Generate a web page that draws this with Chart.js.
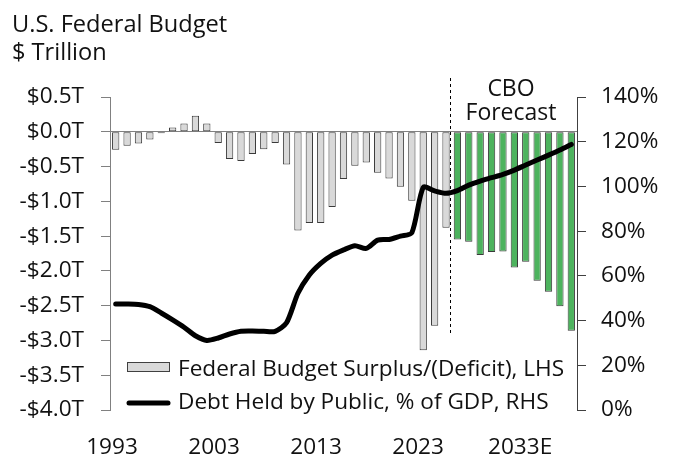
<!DOCTYPE html>
<html>
<head>
<meta charset="utf-8">
<script src="https://cdn.jsdelivr.net/npm/chart.js@4.4.1/dist/chart.umd.min.js"></script>
<style>
  html, body { margin: 0; padding: 0; background: #fff; }
  #wrap { position: relative; width: 674px; height: 461px; }
</style>
</head>
<body>
<div id="wrap"><canvas id="budgetChart" width="674" height="461"></canvas></div>
<script>
// --- data ---
const years = [];
for (let y = 1993; y <= 2033; y++) years.push(String(y));

// surplus/(deficit), $ trillion, 1993-2022 actual
const actualBalance = [
  -0.26, -0.20, -0.17, -0.11, -0.02, 0.06, 0.12, 0.23, 0.12, -0.16,
  -0.39, -0.42, -0.32, -0.25, -0.16, -0.47, -1.42, -1.31, -1.31, -1.08,
  -0.68, -0.49, -0.44, -0.59, -0.67, -0.79, -0.99, -3.14, -2.79, -1.38
];
// CBO forecast, 2023-2033
const forecastBalance = [
  -1.55, -1.58, -1.77, -1.73, -1.72, -1.95, -1.87, -2.14, -2.30, -2.51, -2.86
];
// debt held by public, % of GDP
const debtPctGdp = [
  47.4, 47.4, 47.2, 46.2, 43.4, 40.3, 37.0, 33.2, 31.1, 32.2,
  34.0, 35.2, 35.3, 35.2, 35.2, 39.0, 52.2, 60.4, 65.6, 69.3,
  71.6, 73.5, 72.3, 76.0, 76.3, 77.8, 79.3, 99.6, 98.0, 96.9,
  98.1, 100.6, 102.4, 103.9, 105.4, 107.3, 109.6, 111.8, 114.0, 116.3, 118.8
];
const xTickYears = [1993, 2003, 2013, 2023, 2033];
const xTickLabels = ['1993', '2003', '2013', '2023', '2033E'];

const barLabel = 'Federal Budget Surplus/(Deficit), LHS';
const lineLabel = 'Debt Held by Public, % of GDP, RHS';

// pad the two bar series so each sits on its own years
const actualSeries = years.map((_, i) => i < actualBalance.length ? actualBalance[i] : null);
const forecastSeries = years.map((_, i) => i >= actualBalance.length ? forecastBalance[i - actualBalance.length] : null);

const FONT = '"Open Sans", "Noto Sans", sans-serif';
const TEXT = '#111';
const AXIS_GRAY = '#808080';

// --- titles, legend, forecast marker ---
const decorPlugin = {
  id: 'decor',
  afterDatasetsDraw(chart) {
    const { ctx, scales } = chart;
    ctx.save();

    // dashed split between actuals and forecast
    const xs = scales.x;
    const splitX = Math.round((xs.getPixelForValue(29) + xs.getPixelForValue(30)) / 2) - 1.5;
    ctx.strokeStyle = '#000';
    ctx.lineWidth = 1;
    ctx.setLineDash([3, 3]);
    ctx.beginPath();
    ctx.moveTo(splitX, 78);
    ctx.lineTo(splitX, 334);
    ctx.stroke();
    ctx.setLineDash([]);

    ctx.fillStyle = TEXT;
    ctx.textAlign = 'center';
    ctx.textBaseline = 'alphabetic';
    ctx.font = '23px ' + FONT;
    ctx.fillText('CBO', 511, 96);
    ctx.fillText('Forecast', 511, 120);

    // legend, inside the plot
    const lx = 127, sw = 43;
    ctx.fillStyle = '#d9d9d9';
    ctx.fillRect(lx, 362, sw, 10);
    ctx.strokeStyle = '#404040';
    ctx.lineWidth = 1;
    ctx.strokeRect(lx + 0.5, 362.5, sw - 1, 9);
    ctx.strokeStyle = '#000';
    ctx.lineWidth = 5;
    ctx.lineCap = 'round';
    ctx.beginPath();
    ctx.moveTo(lx + 2, 403);
    ctx.lineTo(lx + sw - 2, 403);
    ctx.stroke();

    ctx.fillStyle = TEXT;
    ctx.textAlign = 'left';
    ctx.font = '22.6px ' + FONT;
    ctx.fillText(barLabel, 178, 376);
    ctx.fillText(lineLabel, 178, 409);

    // title + unit
    ctx.font = '23.6px ' + FONT;
    ctx.fillText('U.S. Federal Budget', 12, 32);
    ctx.fillText('$ Trillion', 12, 60);
    ctx.restore();
  }
};

const ctx = document.getElementById('budgetChart').getContext('2d');
const budgetChart = new Chart(ctx, {
  data: {
    labels: years,
    datasets: [
      {
        type: 'line',
        label: lineLabel,
        data: debtPctGdp,
        yAxisID: 'y1',
        borderColor: '#000',
        borderWidth: 5,
        pointRadius: 0,
        tension: 0.25,
        borderCapStyle: 'round',
        borderJoinStyle: 'round',
        order: 0
      },
      {
        type: 'bar',
        label: barLabel,
        data: actualSeries,
        yAxisID: 'y',
        backgroundColor: '#d9d9d9',
        borderColor: '#3a3a3a',
        borderWidth: 1,
        borderSkipped: false,
        barPercentage: 0.64,
        categoryPercentage: 1,
        grouped: false,
        order: 1
      },
      {
        type: 'bar',
        label: 'CBO Forecast',
        data: forecastSeries,
        yAxisID: 'y',
        backgroundColor: '#4db35e',
        borderColor: '#3a3a3a',
        borderWidth: 1,
        borderSkipped: false,
        barPercentage: 0.64,
        categoryPercentage: 1,
        grouped: false,
        order: 1
      }
    ]
  },
  options: {
    responsive: false,
    animation: false,
    layout: { padding: { left: 12, right: 0, top: 97, bottom: 0 } },
    plugins: {
      legend: { display: false },
      tooltip: { enabled: false }
    },
    scales: {
      x: {
        type: 'category',
        display: false,
        offset: true
      },
      xYears: {
        type: 'linear',
        position: 'bottom',
        min: 1992.8,
        max: 2038.58,
        afterBuildTicks: (s) => { s.ticks = xTickYears.map(v => ({ value: v })); },
        afterFit: (s) => { s.height = 51; },
        grid: { display: false },
        border: { display: false },
        ticks: {
          padding: 16,
          color: TEXT,
          font: { size: 22.6, family: FONT },
          maxRotation: 0,
          autoSkip: false,
          callback: (v) => xTickLabels[xTickYears.indexOf(v)]
        }
      },
      y: {
        position: 'left',
        min: -4,
        max: 0.5,
        afterFit: (s) => { s.width = 98; },
        border: { display: true, color: AXIS_GRAY, width: 1 },
        grid: {
          drawOnChartArea: true,
          color: (c) => c.tick && c.tick.value === 0 ? AXIS_GRAY : 'rgba(0,0,0,0)',
          tickColor: AXIS_GRAY,
          tickLength: 9
        },
        ticks: {
          stepSize: 0.5,
          padding: 17,
          color: TEXT,
          font: { size: 22.6, family: FONT },
          callback: (v) => (v < 0 ? '-$' : '$') + Math.abs(v).toFixed(1) + 'T'
        }
      },
      y1: {
        position: 'right',
        min: 0,
        max: 140,
        afterFit: (s) => { s.width = 97; },
        border: { display: true, color: '#404040', width: 1 },
        grid: { drawOnChartArea: false, tickColor: '#404040', tickLength: 9 },
        ticks: {
          stepSize: 20,
          padding: 15,
          color: TEXT,
          font: { size: 22.6, family: FONT },
          callback: (v) => v + '%'
        }
      }
    }
  },
  plugins: [decorPlugin]
});
</script>
</body>
</html>
